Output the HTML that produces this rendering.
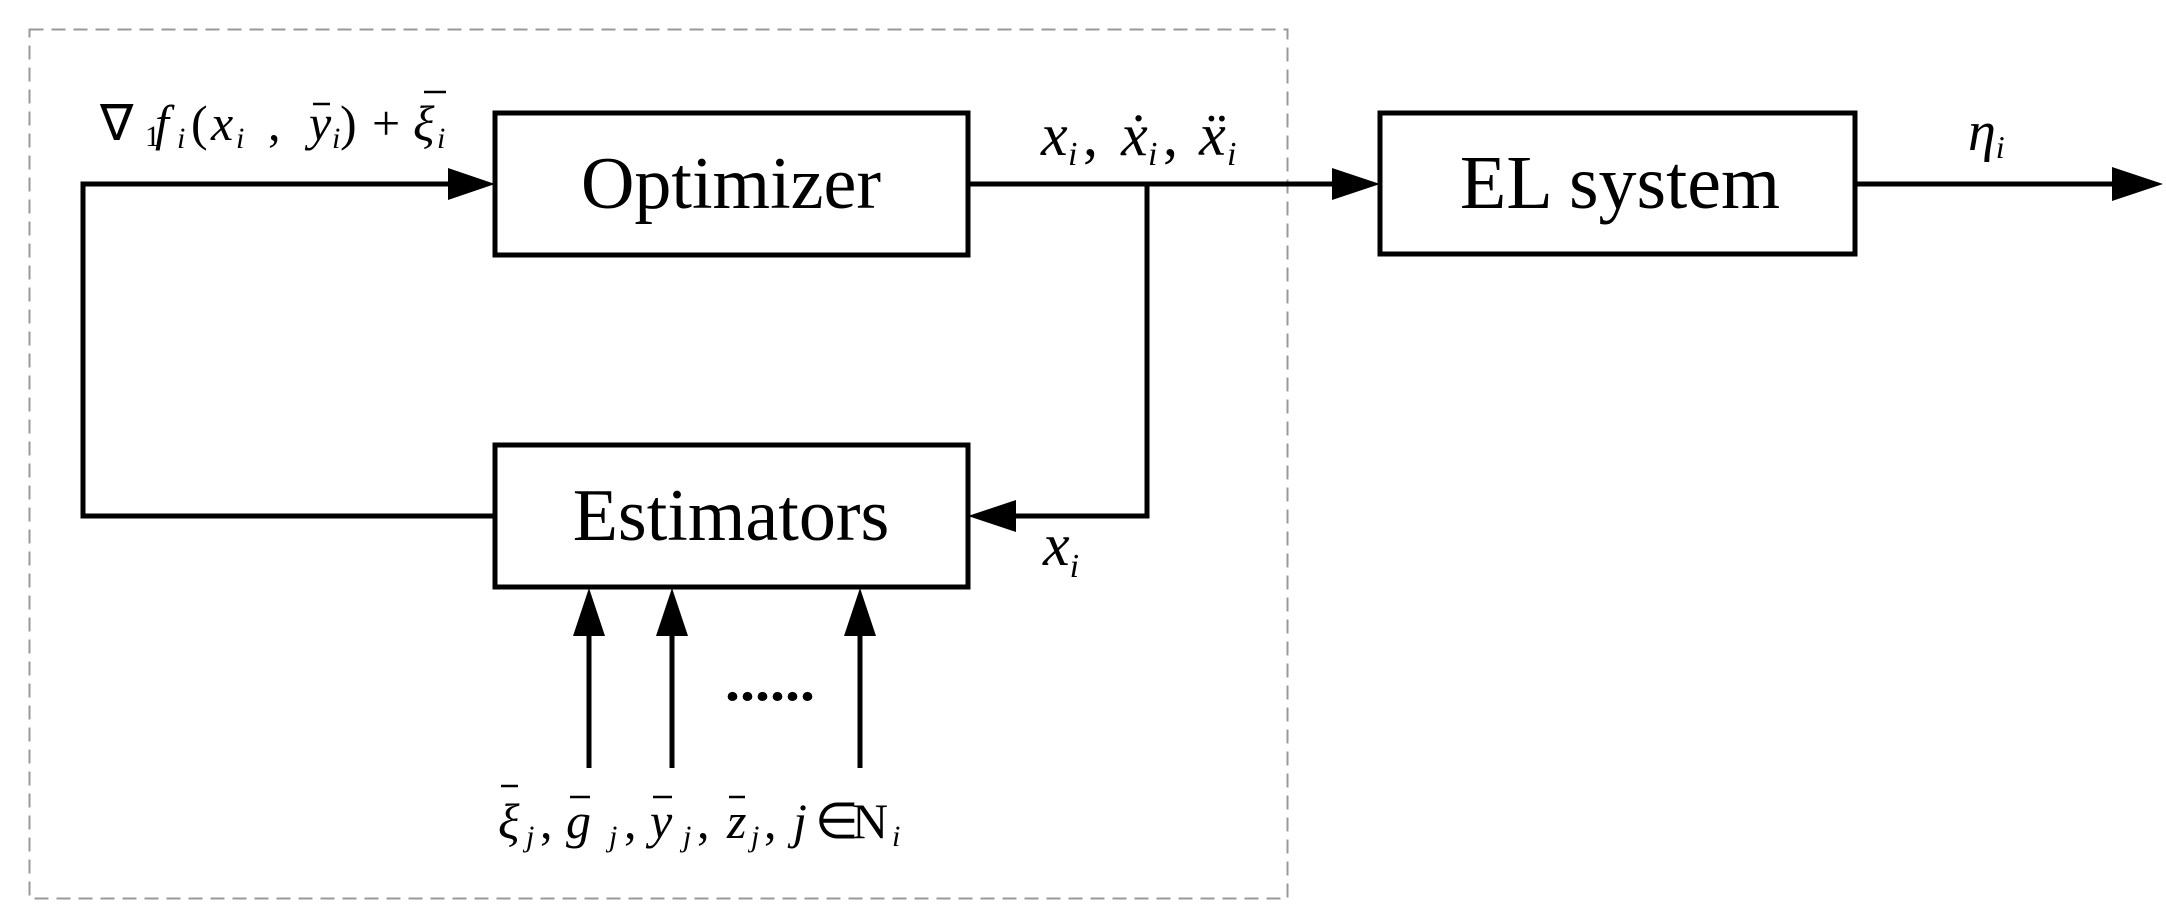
<!DOCTYPE html>
<html><head><meta charset="utf-8"><style>
html,body{margin:0;padding:0;background:#fff;}
svg{display:block}
.t{font-family:"Liberation Serif",serif;fill:#000}
.i{font-style:italic}
</style></head><body>
<svg width="2166" height="919" viewBox="0 0 2166 919" xmlns="http://www.w3.org/2000/svg">
<rect x="29.5" y="29.5" width="1258" height="869" fill="none" stroke="#999" stroke-width="2" stroke-dasharray="14,8"/>
<g stroke="#000" stroke-width="5" fill="none">
<rect x="495" y="113" width="473" height="142"/>
<rect x="495" y="445" width="473" height="142"/>
<rect x="1380" y="113" width="475" height="141"/>
<polyline points="495,516 83,516 83,184 455,184"/>
<line x1="968" y1="184" x2="1340" y2="184"/>
<polyline points="1147,184 1147,516 1010,516"/>
<line x1="1855" y1="184" x2="2120" y2="184"/>
<line x1="589" y1="768" x2="589" y2="630"/>
<line x1="672" y1="768" x2="672" y2="630"/>
<line x1="860" y1="768" x2="860" y2="630"/>
</g>
<g fill="#000">
<polygon points="495,184 448,168 448,200"/>
<polygon points="1380,184 1332,168 1332,200"/>
<polygon points="2163,184 2112,167 2112,201"/>
<polygon points="968,516 1016,500 1016,532"/>
<polygon points="589,588 573,636 605,636"/>
<polygon points="672,588 656,636 688,636"/>
<polygon points="860,588 844,636 876,636"/>
</g>
<text class="t" x="731" y="208" font-size="74" text-anchor="middle">Optimizer</text>
<text class="t" x="731" y="540" font-size="74" text-anchor="middle">Estimators</text>
<text class="t" x="1620" y="208" font-size="76" text-anchor="middle">EL system</text>
<text class="t" x="725" y="700" font-size="56" font-weight="bold" textLength="90" lengthAdjust="spacingAndGlyphs">......</text>
<!-- top-left formula -->
<g class="t" font-size="50">
<text x="100" y="140">∇</text>
<text x="145" y="146" font-size="30">1</text>
<text x="155" y="140" class="i">f</text>
<text x="177" y="148" font-size="30" class="i">i</text>
<text x="191" y="140">(</text>
<text x="211" y="140" class="i">x</text>
<text x="236" y="148" font-size="30" class="i">i</text>
<text x="268" y="140">,</text>
<text x="309" y="140" class="i">y</text>
<text x="332" y="148" font-size="30" class="i">i</text>
<text x="340" y="140">)</text>
<text x="372" y="140">+</text>
<text x="413" y="140" class="i">ξ</text>
<text x="437" y="148" font-size="30" class="i">i</text>
</g>
<line x1="313" y1="104" x2="330" y2="104" stroke="#000" stroke-width="2.5"/>
<line x1="424" y1="92" x2="446" y2="92" stroke="#000" stroke-width="2.5"/>
<!-- output label -->
<g class="t i" font-size="60">
<text x="1041" y="155">x</text><text x="1068" y="165" font-size="34">i</text>
<text x="1083" y="155" font-style="normal">,</text>
<text x="1121" y="155">ẋ</text><text x="1148" y="165" font-size="34">i</text>
<text x="1163" y="155" font-style="normal">,</text>
<text x="1199" y="155">ẍ</text><text x="1227" y="165" font-size="34">i</text>
</g>
<text class="t i" x="1043" y="565" font-size="60">x<tspan font-size="34" dy="12">i</tspan></text>
<text class="t i" x="1968" y="150" font-size="56">η<tspan font-size="32" dy="8">i</tspan></text>
<!-- bottom formula -->
<g class="t" font-size="50">
<text x="498" y="838" class="i">ξ</text><text x="526" y="846" font-size="30" class="i">j</text>
<text x="540" y="838">,</text>
<text x="566" y="838" class="i">g</text><text x="609" y="846" font-size="30" class="i">j</text>
<text x="624" y="838">,</text>
<text x="650" y="838" class="i">y</text><text x="683" y="846" font-size="30" class="i">j</text>
<text x="697" y="838">,</text>
<text x="727" y="838" class="i">z</text><text x="751" y="846" font-size="30" class="i">j</text>
<text x="764" y="838">,</text>
<text x="793" y="838" class="i">j</text>
<text x="815" y="838">∈</text>
<text x="852" y="838">N</text><text x="892" y="846" font-size="30" class="i">i</text>
</g>
<line x1="501" y1="786" x2="518" y2="786" stroke="#000" stroke-width="2.5"/>
<line x1="570" y1="797" x2="590" y2="797" stroke="#000" stroke-width="2.5"/>
<line x1="653" y1="797" x2="672" y2="797" stroke="#000" stroke-width="2.5"/>
<line x1="729" y1="797" x2="745" y2="797" stroke="#000" stroke-width="2.5"/>
</svg>
</body></html>
